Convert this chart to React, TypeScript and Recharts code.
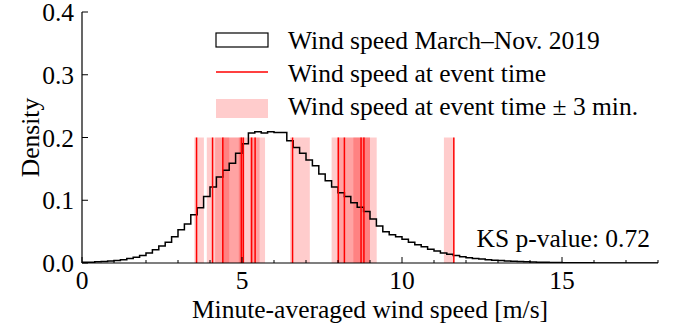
import React from 'react';
import {
  ComposedChart,
  Line,
  XAxis,
  YAxis,
  ReferenceArea,
  ReferenceLine,
  Customized,
} from 'recharts';

// Histogram of minute-averaged wind speed, 0.2 m/s bins starting at 0 m/s
const BIN_WIDTH = 0.2;
const densities = [
  0.001, 0.0012, 0.0018, 0.0024, 0.003, 0.004, 0.005, 0.007, 0.009, 0.012,
  0.016, 0.021, 0.027, 0.033, 0.042, 0.053, 0.062, 0.077, 0.088, 0.106,
  0.121, 0.137, 0.148, 0.159, 0.175, 0.19, 0.207, 0.209, 0.207, 0.209,
  0.208, 0.208, 0.195, 0.184, 0.175, 0.164, 0.155, 0.142, 0.131, 0.121,
  0.112, 0.106, 0.096, 0.089, 0.082, 0.07, 0.059, 0.05, 0.045, 0.042,
  0.038, 0.033, 0.029, 0.026, 0.022, 0.019, 0.016, 0.014, 0.012, 0.01,
  0.0085, 0.0072, 0.0062, 0.0053, 0.0045, 0.0038, 0.0032, 0.0027, 0.0022, 0.0018,
  0.0015, 0.0012, 0.001, 0.0008, 0.0007, 0.0005, 0.0004, 0.0004, 0.0003, 0.0003,
  0.0002, 0.0002, 0.0002, 0.0001, 0.0001, 0.0001, 0.0001, 0.0001, 0.0001, 0.0001,
];

// Wind speed at each event time, and the range seen within ±3 minutes of it
const eventSpeeds = [3.58, 4.08, 4.4, 4.98, 5.04, 5.3, 5.41, 6.58, 8.01, 8.2, 8.72, 8.81, 11.62];
const windowLow = [3.51, 3.9, 4.16, 4.4, 4.9, 5.1, 5.25, 6.5, 7.8, 7.98, 8.48, 8.63, 11.31];
const windowHigh = [3.81, 4.6, 5.0, 5.1, 5.08, 5.72, 5.55, 7.12, 8.63, 9.0, 9.21, 9.0, 11.62];
const EVENT_MARK_HEIGHT = 0.2;

const xTicks = [0, 1, 2, 3, 4, 5, 6, 7, 8, 9, 10, 11, 12, 13, 14, 15, 16, 17, 18];
const xMajorTicks = [0, 5, 10, 15];
const yTicks = [0, 0.1, 0.2, 0.3, 0.4];
const ksPValue = 0.72;

const legendLabels = [
  'Wind speed March–Nov. 2019',
  'Wind speed at event time',
  'Wind speed at event time ± 3 min.',
];

const FONT = '"Liberation Serif", "Times New Roman", Times, serif';
const FONT_SIZE = 25.5;
const textStyle = { fontFamily: FONT, fontSize: FONT_SIZE };

const histData = [
  { x: 0, density: 0 },
  ...densities.map((d, i) => ({ x: +(i * BIN_WIDTH).toFixed(2), density: d })),
  { x: +(densities.length * BIN_WIDTH).toFixed(2), density: densities[densities.length - 1] },
];

const BottomTick = (props: any) => {
  const { x, y, payload } = props;
  const major = xMajorTicks.includes(payload.value);
  return (
    <g>
      <line x1={x} y1={y} x2={x} y2={y - (major ? 6 : 3)} stroke="#000" strokeWidth={1} />
      {major && (
        <text x={x} y={y + 6} dy="0.78em" textAnchor="middle" style={textStyle} fill="#000">
          {payload.value}
        </text>
      )}
    </g>
  );
};

const TopTick = (props: any) => {
  const { x, y, payload } = props;
  const major = xMajorTicks.includes(payload.value);
  return <line x1={x} y1={y} x2={x} y2={y + (major ? 6 : 3)} stroke="#000" strokeWidth={1} />;
};

const LeftTick = (props: any) => {
  const { x, y, payload } = props;
  return (
    <g>
      <line x1={x} y1={y} x2={x + 6} y2={y} stroke="#000" strokeWidth={1} />
      <text x={x - 8} y={y} dy="0.36em" textAnchor="end" style={textStyle} fill="#000">
        {Number(payload.value).toFixed(1)}
      </text>
    </g>
  );
};

const RightTick = (props: any) => {
  const { x, y } = props;
  return <line x1={x} y1={y} x2={x - 6} y2={y} stroke="#000" strokeWidth={1} />;
};

const Annotations = () => (
  <g style={textStyle} fill="#000">
    {/* legend */}
    <rect x={216} y={33} width={52} height={14} fill="#fff" stroke="#000" strokeWidth={1.2} />
    <line x1={216} y1={72} x2={268} y2={72} stroke="#ff0000" strokeWidth={1.5} />
    <rect x={216} y={99} width={52} height={19} fill="#ff0000" fillOpacity={0.2} />
    {legendLabels.map((t, i) => (
      <text key={t} x={288} y={40 + i * 33} dy="0.36em" style={textStyle}>
        {t}
      </text>
    ))}
    {/* KS test result */}
    <text x={650} y={238} dy="0.36em" textAnchor="end" style={textStyle}>
      {`KS p-value: ${ksPValue.toFixed(2)}`}
    </text>
    {/* axis titles */}
    <text x={370} y={309} dy="0.36em" textAnchor="middle" style={textStyle}>
      Minute-averaged wind speed [m/s]
    </text>
    <text x={30} y={137.5} dy="0.36em" textAnchor="middle" transform="rotate(-90 30 137.5)" style={textStyle}>
      Density
    </text>
  </g>
);

export default function App() {
  return (
    <div style={{ position: 'absolute', left: 0, top: 0 }}>
      <ComposedChart
        width={678}
        height={327}
        data={histData}
        margin={{ top: 12, right: 20, bottom: 0, left: 0 }}
      >
        <XAxis
          dataKey="x"
          type="number"
          domain={[0, 18]}
          ticks={xTicks}
          interval={0}
          allowDataOverflow
          height={64}
          tickSize={0}
          tickMargin={0}
          tickLine={false}
          tick={<BottomTick />}
          axisLine={{ stroke: '#000', strokeWidth: 1.2 }}
        />
        <XAxis
          xAxisId="top"
          orientation="top"
          dataKey="x"
          type="number"
          domain={[0, 18]}
          ticks={xTicks}
          interval={0}
          allowDataOverflow
          height={0}
          tickSize={0}
          tickMargin={0}
          tickLine={false}
          tick={<TopTick />}
          axisLine={{ stroke: '#000', strokeWidth: 1.2 }}
        />
        <YAxis
          type="number"
          domain={[0, 0.4]}
          ticks={yTicks}
          interval={0}
          allowDataOverflow
          width={82}
          tickSize={0}
          tickMargin={0}
          tickLine={false}
          tick={<LeftTick />}
          axisLine={{ stroke: '#000', strokeWidth: 1.2 }}
        />
        <YAxis
          yAxisId="right"
          orientation="right"
          type="number"
          domain={[0, 0.4]}
          ticks={yTicks}
          interval={0}
          allowDataOverflow
          width={0}
          tickSize={0}
          tickMargin={0}
          tickLine={false}
          tick={<RightTick />}
          axisLine={{ stroke: '#000', strokeWidth: 1.2 }}
        />
        {eventSpeeds.map((s, i) => (
          <ReferenceArea
            key={`w${i}`}
            x1={windowLow[i]}
            x2={windowHigh[i]}
            y1={0}
            y2={EVENT_MARK_HEIGHT}
            fill="#ff0000"
            fillOpacity={0.2}
            stroke="none"
            ifOverflow="visible"
          />
        ))}
        <Line
          type="stepAfter"
          dataKey="density"
          stroke="#000"
          strokeWidth={1.5}
          dot={false}
          activeDot={false}
          isAnimationActive={false}
        />
        {eventSpeeds.map((s, i) => (
          <ReferenceLine
            key={`e${i}`}
            segment={[
              { x: s, y: 0 },
              { x: s, y: EVENT_MARK_HEIGHT },
            ]}
            stroke="#ff0000"
            strokeWidth={1.5}
            ifOverflow="visible"
          />
        ))}
        <Customized component={Annotations} />
      </ComposedChart>
    </div>
  );
}
